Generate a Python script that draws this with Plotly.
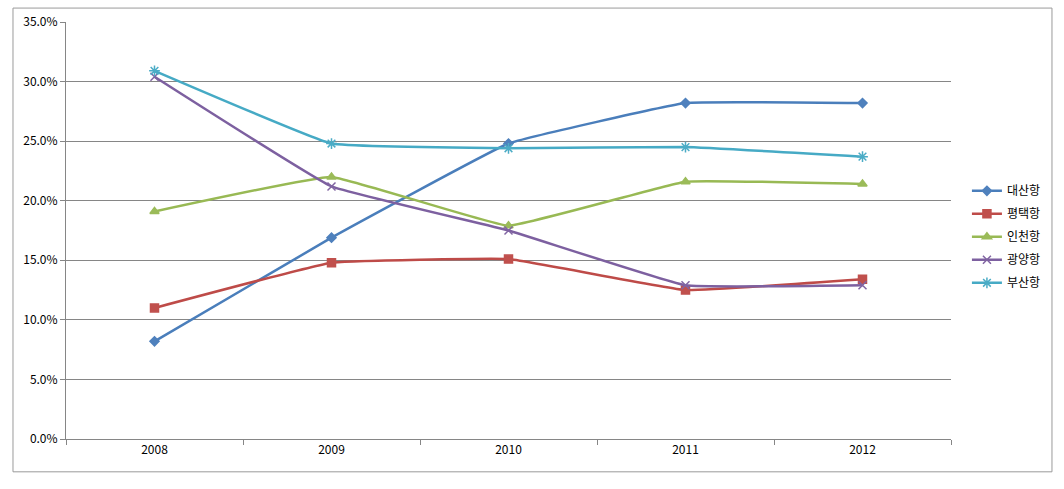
import plotly.graph_objects as go

years = ["2008", "2009", "2010", "2011", "2012"]
daesan = [8.2, 16.9, 24.8, 28.2, 28.2]
pyeongtaek = [11.0, 14.8, 15.1, 12.5, 13.4]
incheon = [19.1, 22.0, 17.9, 21.6, 21.4]
gwangyang = [30.4, 21.2, 17.5, 12.9, 12.9]
busan = [30.9, 24.8, 24.4, 24.5, 23.7]
series_names = ["대산항", "평택항", "인천항", "광양항", "부산항"]
y_ticks = [0, 5, 10, 15, 20, 25, 30, 35]

FONT = "Noto Sans CJK KR"

series = [
    (series_names[0], daesan, "#4A7EBB", "#4F81BD", "diamond", 7),
    (series_names[1], pyeongtaek, "#BE4B48", "#C0504D", "square", 8),
    (series_names[2], incheon, "#98B954", "#9BBB59", "triangle-up", 8),
    (series_names[3], gwangyang, "#7D60A0", "#8064A2", "x-thin-open", 8),
    (series_names[4], busan, "#46AAC5", "#4BACC6", "asterisk-open", 9),
]

fig = go.Figure()
for i, (name, vals, lc, mc, sym, sz) in enumerate(series):
    fig.add_trace(go.Scatter(
        x=years, y=vals, name=name, mode="lines+markers",
        line=dict(color=lc, width=2.5, shape="spline", smoothing=0.25),
        marker=dict(symbol=sym, size=sz, color=mc, line=dict(color=mc, width=1.5)),
        legendgroup=f"g{i}",
    ))

fig.update_layout(
    width=1064, height=489,
    margin=dict(l=66, r=113, t=20, b=50),
    paper_bgcolor="white", plot_bgcolor="white",
    font=dict(family=FONT, size=12, color="#000000"),
    showlegend=True,
    legend=dict(x=1.018, y=0.63, xanchor="left", yanchor="top",
                font=dict(family=FONT, size=12, color="#000"),
                tracegroupgap=4, itemwidth=30, bgcolor="rgba(0,0,0,0)"),
    shapes=[dict(type="rect", xref="paper", yref="paper",
                 x0=-0.0599, x1=1.1141, y0=-0.0787, y1=1.0334,
                 line=dict(color="#9a9a9a", width=1), layer="below")],
)
fig.update_xaxes(
    type="category", range=[-0.5, 4.5],
    showline=True, linecolor="#868686", linewidth=1,
    ticks="outside", tickson="boundaries", ticklen=5, tickcolor="#868686",
    showgrid=False, tickfont=dict(family=FONT, size=12),
)
fig.update_yaxes(
    range=[0, 35], tickvals=y_ticks,
    ticktext=[f"{v:.1f}%" for v in y_ticks],
    showline=True, linecolor="#868686", linewidth=1,
    ticks="outside", ticklen=5, tickcolor="#868686",
    showgrid=True, gridcolor="#868686", gridwidth=1,
    zeroline=False, tickfont=dict(family=FONT, size=12),
)

fig.write_html("out.html")
